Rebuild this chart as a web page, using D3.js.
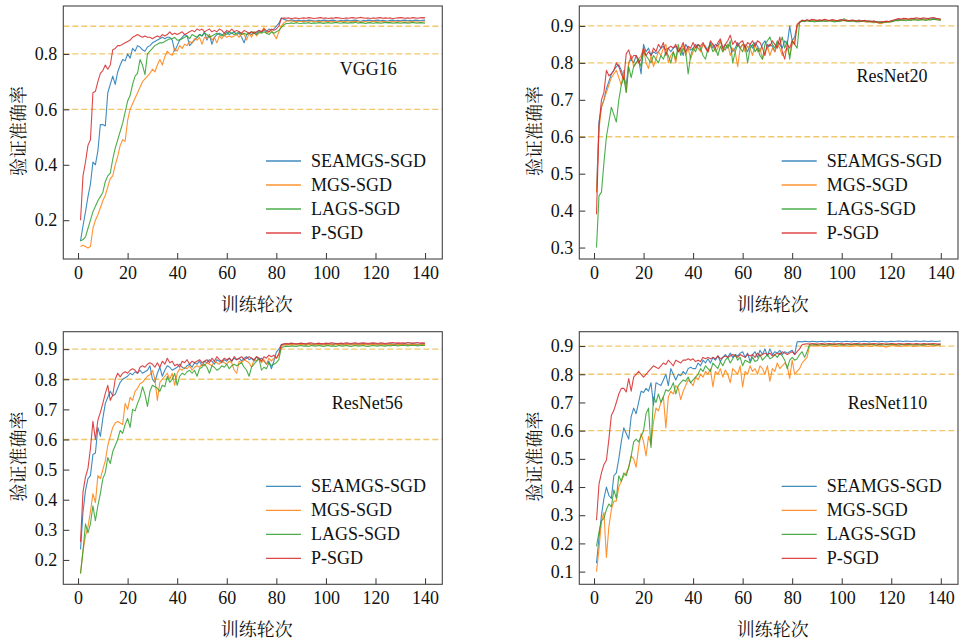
<!DOCTYPE html>
<meta charset="utf-8" />
<script src="https://d3js.org/d3.v7.min.js"></script>
<style>
  body { margin: 0; background: #fff; }
  svg text { font-family: "Liberation Serif", "Times New Roman", serif; fill: #111; font-size: 18px; }
  svg text.cjk { font-family: "Noto Serif CJK SC", "Noto Sans CJK SC", serif; }
</style>
<div id="chart"></div>
<script>
// shared data
const epochs = d3.range(1, 141);
const seriesNames = ["SEAMGS-SGD", "MGS-SGD", "LAGS-SGD", "P-SGD"];
const colors = ["#1f77b4", "#ff7f0e", "#2ca02c", "#d62728"];
const xTicks = [0, 20, 40, 60, 80, 100, 120, 140];
const refLines = [0.6, 0.8, 0.9];

// ---- VGG16 ----
const vgg_seamgs = [
  .125,.18,.23,.285,.33,.41,.40,.45,.545,.545,
  .54,.66,.69,.72,.69,.735,.76,.78,.775,.80,
  .785,.82,.81,.83,.825,.815,.81,.825,.83,.84,
  .845,.85,.855,.86,.855,.86,.86,.85,.81,.83,
  .85,.86,.87,.865,.83,.84,.85,.86,.87,.865,
  .88,.85,.87,.835,.86,.87,.875,.87,.865,.88,
  .87,.875,.88,.87,.875,.86,.84,.87,.875,.87,
  .88,.875,.885,.88,.885,.88,.89,.885,.89,.90,
  .91,.93,.925,.922,.92,.923,.921,.92,.922,.92,
  .921,.92,.922,.921,.92,.919,.921,.92,.922,.921,
  .92,.921,.922,.92,.919,.921,.92,.922,.921,.92,
  .921,.922,.92,.918,.921,.92,.922,.921,.92,.921,
  .922,.92,.921,.92,.919,.921,.922,.92,.921,.92,
  .921,.922,.92,.921,.92,.922,.921,.92,.921,.922];
const vgg_mgs = [
  .105,.11,.105,.10,.105,.17,.20,.22,.245,.27,
  .29,.32,.35,.36,.40,.43,.47,.49,.485,.56,
  .60,.62,.64,.66,.68,.70,.71,.72,.73,.745,
  .735,.76,.78,.76,.79,.81,.80,.795,.82,.81,
  .83,.82,.835,.83,.845,.84,.855,.85,.86,.835,
  .86,.855,.87,.85,.86,.84,.865,.855,.87,.86,
  .865,.86,.865,.87,.86,.875,.87,.85,.875,.86,
  .88,.865,.875,.88,.895,.875,.88,.885,.87,.855,
  .88,.90,.912,.918,.92,.919,.917,.918,.916,.917,
  .918,.916,.917,.919,.917,.916,.918,.917,.915,.917,
  .918,.916,.917,.915,.917,.918,.916,.917,.915,.916,
  .917,.918,.916,.914,.916,.917,.915,.916,.918,.917,
  .916,.915,.917,.916,.914,.916,.917,.915,.916,.917,
  .915,.916,.914,.916,.917,.915,.916,.914,.915,.916];
const vgg_lags = [
  .125,.13,.14,.17,.20,.23,.25,.27,.285,.30,
  .34,.36,.37,.42,.46,.49,.52,.55,.59,.63,
  .65,.69,.72,.73,.78,.76,.725,.80,.81,.82,
  .83,.835,.84,.84,.845,.85,.855,.855,.86,.85,
  .85,.855,.86,.865,.855,.87,.865,.86,.87,.865,
  .875,.87,.86,.865,.87,.875,.87,.865,.875,.87,
  .88,.875,.87,.875,.88,.87,.875,.87,.875,.88,
  .875,.87,.88,.875,.88,.875,.87,.88,.875,.88,
  .885,.895,.905,.91,.91,.912,.91,.913,.911,.91,
  .912,.911,.913,.91,.912,.911,.913,.912,.91,.912,
  .913,.911,.912,.914,.912,.911,.913,.912,.911,.913,
  .912,.914,.911,.913,.912,.91,.912,.913,.911,.912,
  .913,.911,.912,.914,.912,.913,.911,.912,.913,.911,
  .912,.913,.911,.912,.914,.912,.911,.913,.912,.911];
const vgg_psgd = [
  .20,.36,.41,.47,.49,.66,.665,.70,.73,.74,
  .76,.745,.76,.815,.82,.83,.83,.835,.84,.845,
  .85,.86,.865,.87,.865,.86,.865,.86,.86,.855,
  .86,.865,.86,.87,.865,.87,.88,.87,.875,.87,
  .875,.88,.87,.875,.88,.885,.88,.89,.885,.89,
  .88,.885,.89,.88,.885,.88,.89,.885,.875,.885,
  .88,.89,.88,.885,.88,.875,.885,.88,.875,.88,
  .875,.88,.885,.88,.89,.885,.88,.89,.885,.89,
  .90,.928,.93,.929,.93,.928,.929,.93,.928,.929,
  .93,.929,.931,.93,.928,.929,.93,.931,.929,.93,
  .928,.93,.929,.931,.93,.929,.928,.93,.929,.93,
  .931,.929,.93,.932,.93,.929,.93,.928,.93,.929,
  .93,.931,.929,.93,.929,.93,.928,.929,.93,.931,
  .93,.929,.93,.929,.931,.93,.929,.93,.931,.93];

// ---- ResNet20 ----
const r20_seamgs = [
  .45,.64,.68,.70,.73,.75,.77,.78,.79,.795,
  .78,.76,.74,.80,.81,.80,.82,.81,.77,.85,
  .83,.84,.82,.83,.825,.83,.84,.845,.835,.84,
  .83,.84,.845,.83,.84,.82,.85,.84,.835,.84,
  .85,.84,.835,.85,.845,.83,.855,.84,.85,.845,
  .86,.84,.835,.85,.845,.83,.84,.855,.84,.85,
  .845,.83,.85,.84,.855,.845,.83,.85,.86,.84,
  .85,.845,.83,.855,.85,.84,.86,.85,.90,.86,
  .87,.90,.91,.915,.913,.916,.914,.915,.917,.914,
  .915,.913,.916,.915,.914,.916,.915,.913,.915,.916,
  .914,.915,.913,.915,.914,.912,.914,.913,.915,.912,
  .913,.911,.912,.91,.908,.909,.91,.912,.911,.913,
  .915,.917,.918,.916,.918,.919,.917,.918,.92,.919,
  .918,.92,.919,.918,.92,.919,.921,.92,.918,.917];
const r20_mgs = [
  .45,.62,.68,.70,.72,.74,.76,.77,.78,.76,
  .74,.78,.72,.80,.82,.79,.80,.81,.82,.84,
  .80,.785,.82,.79,.81,.83,.82,.84,.85,.80,
  .82,.83,.80,.84,.83,.85,.82,.84,.81,.83,
  .845,.84,.83,.85,.84,.83,.845,.85,.83,.84,
  .86,.83,.84,.85,.82,.84,.83,.79,.84,.85,
  .83,.845,.84,.82,.85,.83,.84,.81,.83,.845,
  .82,.84,.83,.85,.84,.82,.83,.84,.82,.85,
  .86,.90,.91,.914,.912,.915,.913,.914,.916,.913,
  .914,.916,.913,.915,.914,.913,.915,.914,.912,.914,
  .915,.913,.914,.912,.914,.913,.911,.913,.912,.91,
  .912,.91,.909,.911,.907,.906,.909,.911,.91,.912,
  .914,.916,.915,.917,.916,.918,.917,.916,.918,.917,
  .919,.917,.918,.916,.918,.917,.919,.918,.917,.916];
const r20_lags = [
  .30,.44,.45,.53,.60,.64,.68,.66,.64,.70,
  .74,.76,.72,.79,.76,.79,.80,.81,.79,.83,
  .82,.81,.80,.82,.81,.80,.82,.81,.83,.82,
  .80,.83,.81,.85,.82,.84,.83,.77,.82,.84,
  .83,.85,.84,.82,.81,.84,.85,.83,.84,.82,
  .845,.83,.85,.84,.86,.80,.83,.85,.84,.83,
  .85,.80,.84,.85,.83,.84,.82,.81,.85,.86,
  .87,.85,.84,.86,.85,.87,.84,.86,.81,.86,
  .85,.84,.91,.913,.912,.914,.912,.913,.911,.913,
  .912,.914,.913,.912,.914,.913,.911,.913,.912,.914,
  .92,.913,.912,.914,.913,.911,.913,.912,.914,.912,
  .911,.913,.91,.912,.911,.909,.911,.91,.912,.911,
  .913,.915,.914,.916,.915,.914,.916,.915,.917,.916,
  .915,.917,.916,.915,.917,.916,.918,.917,.916,.915];
const r20_psgd = [
  .39,.63,.70,.72,.78,.765,.77,.78,.80,.79,
  .77,.755,.825,.835,.81,.82,.82,.80,.81,.84,
  .82,.83,.82,.84,.83,.85,.84,.855,.82,.84,
  .845,.84,.85,.83,.84,.855,.83,.845,.84,.855,
  .84,.85,.845,.855,.84,.83,.86,.85,.84,.855,
  .865,.84,.85,.86,.875,.85,.86,.845,.855,.86,
  .84,.855,.85,.86,.845,.86,.855,.84,.82,.85,
  .845,.86,.85,.84,.87,.83,.81,.85,.84,.86,
  .85,.905,.91,.916,.914,.917,.915,.918,.916,.915,
  .917,.915,.918,.916,.915,.917,.916,.914,.916,.917,
  .915,.916,.914,.916,.915,.914,.916,.913,.915,.914,
  .913,.912,.914,.911,.91,.912,.911,.913,.912,.914,
  .916,.918,.92,.919,.921,.92,.919,.921,.92,.922,
  .921,.92,.922,.921,.92,.922,.923,.921,.92,.919];

// ---- ResNet56 ----
const r56_seamgs = [
  .235,.36,.43,.47,.48,.55,.555,.64,.61,.67,
  .72,.74,.76,.745,.75,.77,.79,.80,.805,.81,
  .82,.815,.825,.82,.83,.82,.825,.83,.845,.80,
  .79,.82,.84,.81,.83,.845,.84,.83,.835,.84,
  .85,.84,.835,.845,.85,.84,.855,.85,.86,.845,
  .86,.855,.865,.86,.85,.865,.86,.855,.865,.86,
  .87,.86,.87,.865,.87,.86,.87,.875,.865,.87,
  .86,.875,.865,.87,.86,.85,.86,.835,.86,.89,
  .90,.915,.916,.917,.916,.918,.917,.916,.917,.918,
  .917,.916,.918,.917,.916,.917,.918,.916,.917,.916,
  .918,.917,.916,.917,.918,.917,.916,.918,.917,.916,
  .917,.918,.916,.917,.918,.917,.916,.917,.918,.917,
  .916,.918,.917,.916,.917,.918,.917,.916,.918,.917,
  .917,.918,.916,.917,.918,.917,.916,.917,.918,.917];
const r56_mgs = [
  .155,.23,.28,.31,.36,.42,.39,.48,.47,.50,
  .53,.58,.61,.64,.655,.66,.655,.65,.72,.70,
  .74,.73,.76,.77,.785,.79,.80,.81,.815,.83,
  .80,.73,.79,.80,.81,.82,.80,.82,.78,.82,
  .835,.83,.84,.835,.845,.83,.84,.845,.84,.85,
  .845,.855,.85,.845,.86,.855,.85,.86,.855,.85,
  .86,.855,.83,.82,.86,.855,.865,.86,.855,.84,
  .865,.86,.87,.855,.865,.85,.87,.86,.87,.87,
  .88,.91,.914,.915,.914,.916,.915,.914,.915,.916,
  .915,.914,.916,.915,.914,.915,.916,.914,.915,.914,
  .916,.915,.914,.915,.916,.915,.914,.916,.915,.914,
  .915,.916,.914,.915,.916,.915,.914,.915,.916,.915,
  .914,.916,.915,.914,.915,.916,.915,.914,.916,.915,
  .915,.916,.914,.915,.916,.915,.914,.915,.916,.915];
const r56_lags = [
  .155,.23,.32,.29,.32,.38,.33,.38,.42,.47,
  .49,.54,.52,.56,.58,.60,.63,.62,.65,.67,
  .64,.70,.695,.72,.74,.775,.75,.71,.76,.78,
  .775,.77,.76,.78,.775,.81,.79,.80,.82,.78,
  .81,.82,.815,.825,.83,.82,.83,.81,.835,.84,
  .85,.84,.82,.845,.84,.83,.835,.845,.84,.85,
  .835,.845,.85,.845,.85,.855,.84,.83,.81,.84,
  .85,.86,.87,.83,.84,.835,.855,.845,.85,.855,
  .865,.905,.908,.91,.909,.911,.91,.909,.911,.912,
  .91,.911,.909,.912,.911,.91,.912,.911,.909,.911,
  .912,.91,.911,.909,.912,.911,.91,.912,.911,.909,
  .911,.912,.91,.911,.912,.91,.909,.911,.912,.911,
  .91,.912,.911,.91,.912,.911,.913,.912,.911,.912,
  .913,.912,.911,.912,.913,.912,.911,.912,.913,.912];
const r56_psgd = [
  .26,.426,.476,.504,.57,.66,.60,.664,.69,.72,
  .753,.78,.73,.747,.80,.82,.808,.82,.825,.82,
  .83,.835,.83,.82,.84,.845,.84,.85,.855,.85,
  .84,.855,.84,.86,.85,.87,.855,.86,.845,.85,
  .84,.86,.855,.865,.85,.86,.855,.86,.865,.855,
  .86,.865,.855,.87,.86,.875,.865,.86,.87,.865,
  .87,.86,.875,.865,.87,.875,.865,.87,.875,.87,
  .865,.875,.87,.86,.875,.87,.88,.875,.88,.87,
  .885,.915,.918,.919,.918,.92,.919,.918,.919,.92,
  .919,.918,.92,.921,.919,.918,.92,.919,.918,.92,
  .919,.921,.92,.919,.918,.92,.919,.921,.92,.919,
  .92,.921,.919,.92,.921,.92,.919,.92,.921,.92,
  .919,.921,.92,.919,.92,.921,.922,.92,.921,.92,
  .921,.92,.922,.921,.92,.921,.922,.92,.921,.92];

// ---- ResNet110 ----
const r110_seamgs = [
  .13,.22,.30,.36,.40,.37,.36,.44,.45,.50,
  .56,.61,.59,.57,.65,.68,.66,.70,.74,.735,
  .75,.74,.77,.69,.77,.765,.76,.78,.80,.76,
  .82,.80,.78,.80,.795,.81,.80,.82,.825,.82,
  .82,.84,.83,.85,.84,.855,.84,.86,.85,.865,
  .845,.86,.87,.86,.875,.86,.87,.865,.875,.88,
  .86,.875,.845,.87,.88,.86,.885,.87,.89,.865,
  .89,.87,.88,.875,.885,.87,.88,.875,.88,.885,
  .87,.915,.916,.915,.917,.916,.915,.917,.916,.915,
  .916,.917,.915,.916,.917,.916,.915,.917,.916,.915,
  .916,.917,.916,.915,.917,.916,.915,.916,.917,.916,
  .915,.916,.917,.916,.915,.917,.916,.915,.916,.917,
  .916,.917,.918,.917,.916,.918,.917,.916,.917,.918,
  .917,.916,.918,.917,.916,.918,.917,.916,.917,.918];
const r110_mgs = [
  .10,.18,.28,.31,.15,.26,.32,.35,.35,.40,
  .42,.44,.45,.47,.51,.50,.47,.54,.59,.56,
  .51,.58,.55,.63,.68,.67,.70,.72,.61,.72,
  .74,.73,.76,.75,.71,.74,.76,.78,.77,.76,
  .79,.78,.80,.79,.81,.80,.82,.755,.81,.80,
  .82,.79,.815,.80,.77,.82,.81,.80,.83,.755,
  .81,.80,.83,.81,.82,.80,.83,.82,.80,.83,
  .775,.82,.81,.84,.82,.83,.84,.83,.785,.85,
  .80,.81,.82,.84,.85,.86,.90,.901,.90,.902,
  .901,.90,.899,.901,.902,.90,.901,.899,.90,.901,
  .902,.90,.899,.901,.90,.902,.901,.899,.90,.901,
  .90,.899,.901,.902,.90,.901,.899,.896,.90,.901,
  .902,.90,.901,.899,.90,.902,.901,.90,.899,.901,
  .90,.901,.902,.90,.899,.901,.90,.902,.901,.90];
const r110_lags = [
  .19,.24,.28,.29,.32,.34,.33,.39,.36,.44,
  .42,.45,.44,.47,.51,.56,.57,.56,.58,.60,
  .66,.68,.54,.72,.70,.73,.70,.72,.745,.74,
  .75,.77,.73,.76,.77,.78,.775,.79,.77,.78,
  .79,.80,.82,.81,.83,.82,.81,.84,.83,.82,
  .845,.83,.85,.86,.84,.855,.87,.85,.86,.83,
  .85,.845,.84,.86,.845,.85,.87,.85,.86,.87,
  .855,.86,.87,.86,.875,.865,.85,.82,.85,.86,
  .85,.855,.87,.88,.86,.88,.905,.904,.906,.905,
  .904,.906,.905,.904,.906,.905,.907,.905,.904,.906,
  .905,.904,.906,.905,.907,.906,.905,.904,.906,.905,
  .907,.906,.905,.904,.906,.905,.904,.906,.905,.907,
  .906,.905,.904,.906,.905,.907,.906,.905,.904,.906,
  .905,.904,.906,.905,.907,.906,.905,.904,.906,.905];
const r110_psgd = [
  .282,.41,.45,.48,.495,.57,.654,.672,.70,.73,
  .75,.75,.737,.785,.74,.79,.80,.81,.80,.79,
  .80,.81,.82,.83,.825,.82,.83,.84,.835,.85,
  .84,.83,.85,.845,.84,.85,.85,.855,.85,.855,
  .845,.85,.845,.86,.855,.86,.855,.86,.855,.865,
  .855,.86,.865,.86,.865,.87,.865,.86,.87,.865,
  .86,.87,.865,.87,.86,.875,.865,.87,.875,.87,
  .875,.865,.87,.875,.87,.88,.875,.87,.875,.88,
  .87,.88,.89,.905,.907,.908,.907,.909,.908,.907,
  .908,.909,.907,.908,.909,.908,.907,.908,.909,.908,
  .907,.909,.908,.907,.908,.909,.908,.907,.909,.908,
  .907,.908,.909,.908,.907,.909,.908,.907,.908,.909,
  .908,.907,.909,.908,.907,.908,.909,.908,.907,.909,
  .908,.907,.909,.908,.907,.908,.909,.908,.907,.908];

// layout of the four panels (axes boxes in page pixels)
const panels = [
  { title: "VGG16", series: [vgg_seamgs, vgg_mgs, vgg_lags, vgg_psgd],
    yDomain: [0.060, 0.973], yTicks: [0.2, 0.4, 0.6, 0.8],
    x0: 63.3, x1: 442.3, y0: 6, y1: 259, titleDx: 74, titleDy: 63 },
  { title: "ResNet20", series: [r20_seamgs, r20_mgs, r20_lags, r20_psgd],
    yDomain: [0.269, 0.954], yTicks: [0.3, 0.4, 0.5, 0.6, 0.7, 0.8, 0.9],
    x0: 579.3, x1: 958, y0: 6, y1: 259, titleDx: 66, titleDy: 70 },
  { title: "ResNet56", series: [r56_seamgs, r56_mgs, r56_lags, r56_psgd],
    yDomain: [0.119, 0.958], yTicks: [0.2, 0.3, 0.4, 0.5, 0.6, 0.7, 0.8, 0.9],
    x0: 63.3, x1: 442.3, y0: 331.7, y1: 584.3, titleDx: 75, titleDy: 71 },
  { title: "ResNet110", series: [r110_seamgs, r110_mgs, r110_lags, r110_psgd],
    yDomain: [0.055, 0.951], yTicks: [0.1, 0.2, 0.3, 0.4, 0.5, 0.6, 0.7, 0.8, 0.9],
    x0: 579.3, x1: 958, y0: 331.7, y1: 584.3, titleDx: 70.5, titleDy: 71 }
];

panels.forEach(p => p.series.forEach((s, i) => {
  if (s.length !== epochs.length) throw new Error(p.title + " " + seriesNames[i] + " has " + s.length);
}));

const svg = d3.select("#chart").append("svg")
  .attr("width", 960).attr("height", 641);

const serif = '"Liberation Serif", "Times New Roman", serif';

panels.forEach(p => {
  const x = d3.scaleLinear().domain([-5.95, 146.95]).range([p.x0, p.x1]);
  const y = d3.scaleLinear().domain(p.yDomain).range([p.y1, p.y0]);
  const g = svg.append("g");

  // dashed reference lines
  g.selectAll(".ref").data(refLines).enter().append("line")
    .attr("x1", p.x0).attr("x2", p.x1)
    .attr("y1", d => y(d)).attr("y2", d => y(d))
    .attr("stroke", "#f0c45a").attr("stroke-width", 1.3)
    .attr("stroke-dasharray", "6,3").attr("opacity", 0.9);

  const line = d3.line().x((d, i) => x(epochs[i])).y(d => y(d));
  g.selectAll(".series").data(p.series).enter().append("path")
    .attr("d", line).attr("fill", "none")
    .attr("stroke", (d, i) => colors[i]).attr("stroke-width", 1.1)
    .attr("stroke-opacity", 0.85).attr("stroke-linejoin", "round");

  // axes with inward ticks
  const xa = g.append("g").attr("transform", `translate(0,${p.y1})`)
    .call(d3.axisBottom(x).tickValues(xTicks).tickSizeInner(-6).tickSizeOuter(0).tickPadding(7));
  const ya = g.append("g").attr("transform", `translate(${p.x0},0)`)
    .call(d3.axisLeft(y).tickValues(p.yTicks).tickFormat(d3.format(".1f"))
      .tickSizeInner(-6).tickSizeOuter(0).tickPadding(6));
  [xa, ya].forEach(a => {
    a.attr("font-family", null).attr("font-size", null);
    a.select(".domain").remove();
    a.selectAll("line").attr("stroke", "#333");
    a.selectAll("text").style("font-family", serif).style("font-size", "18px").attr("fill", "#111");
  });

  g.append("rect").attr("x", p.x0).attr("y", p.y0)
    .attr("width", p.x1 - p.x0).attr("height", p.y1 - p.y0)
    .attr("fill", "none").attr("stroke", "#444").attr("stroke-width", 1.1);

  // title inside the axes
  g.append("text").attr("x", p.x1 - p.titleDx).attr("y", p.y0 + p.titleDy)
    .attr("text-anchor", "middle").attr("dominant-baseline", "central")
    .text(p.title);

  // legend
  const lg = g.selectAll(".lg").data(seriesNames).enter().append("g")
    .attr("transform", (d, i) => `translate(${p.x1 - 176.3},${p.y1 - 98 + i * 24})`);
  lg.append("line").attr("x1", 0).attr("x2", 35)
    .attr("stroke", (d, i) => colors[i]).attr("stroke-width", 1.3).attr("stroke-opacity", 0.85);
  lg.append("text").attr("x", 45).attr("dominant-baseline", "central")
    .text(d => d);

  // axis labels
  g.append("text").attr("class", "cjk")
    .attr("x", (p.x0 + p.x1) / 2 + 4).attr("y", p.y1 + 44)
    .attr("text-anchor", "middle").attr("dominant-baseline", "central")
    .text("训练轮次");
  g.append("text").attr("class", "cjk")
    .attr("transform", `translate(${p.x0 - 46.5},${(p.y0 + p.y1) / 2 - 1.5}) rotate(-90)`)
    .attr("text-anchor", "middle").attr("dominant-baseline", "central")
    .text("验证准确率");
});
</script>
